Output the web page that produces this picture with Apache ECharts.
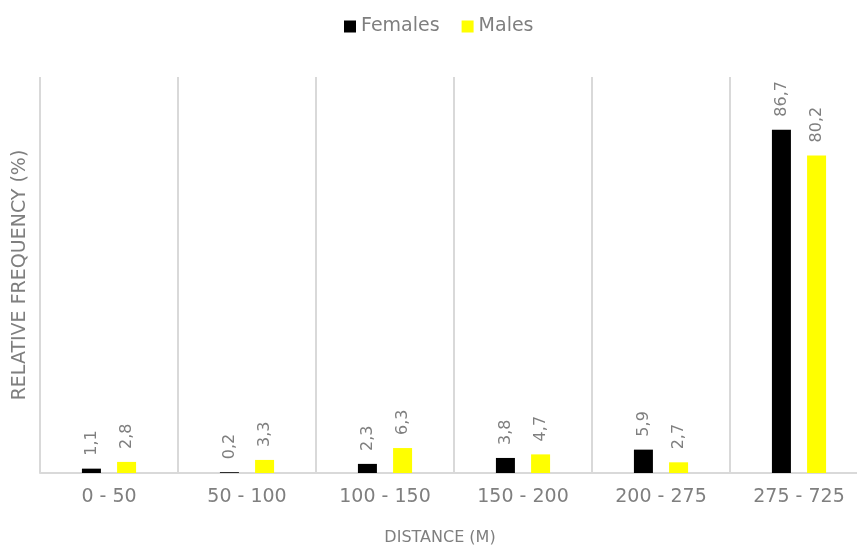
<!DOCTYPE html>
<html>
<head>
<meta charset="utf-8">
<script src="https://cdn.jsdelivr.net/npm/echarts@6/dist/echarts.min.js"></script>
<style>
  html, body { margin: 0; padding: 0; background: #ffffff; }
  #chart { width: 857px; height: 549px; }
</style>
</head>
<body>
<div id="chart"></div>
<script>
// Distance classes (m)
const categories = ['0 - 50', '50 - 100', '100 - 150', '150 - 200', '200 - 275', '275 - 725'];
// Relative frequency (%) per distance class
const females = [1.1, 0.2, 2.3, 3.8, 5.9, 86.7];
const males = [2.8, 3.3, 6.3, 4.7, 2.7, 80.2];

const FONT = 'DejaVu Sans';
const GREY = '#7f7f7f';
const RULE = '#d9d9d9';

const valueLabel = {
  show: true,
  position: 'top',
  distance: 13,
  rotate: 90,
  align: 'left',
  verticalAlign: 'middle',
  color: GREY,
  fontFamily: FONT,
  fontSize: 16,
  formatter: p => p.value.toFixed(1).replace('.', ',')
};

const chart = echarts.init(document.getElementById('chart'));
chart.setOption({
  animation: false,
  backgroundColor: '#ffffff',
  legend: {
    top: 12,
    left: 339,
    icon: 'rect',
    itemWidth: 12,
    itemHeight: 12,
    itemGap: 22,
    textStyle: { color: GREY, fontFamily: FONT, fontSize: 19 },
    data: ['Females', 'Males']
  },
  grid: { left: 40, top: 77, bottom: 76, width: 828, outerBoundsMode: 'none', containLabel: false },
  xAxis: {
    type: 'category',
    data: categories,
    name: 'DISTANCE (M)',
    nameLocation: 'middle',
    nameGap: 57,
    nameTextStyle: { color: GREY, fontFamily: FONT, fontSize: 16, padding: [0, 28, 0, 0] },
    axisTick: { show: false },
    axisLine: { lineStyle: { color: RULE, width: 2 } },
    axisLabel: { color: GREY, fontFamily: FONT, fontSize: 19, margin: 15, interval: 0 },
    splitLine: { show: true, interval: 0, lineStyle: { color: RULE, width: 2 } }
  },
  yAxis: {
    type: 'value',
    min: 0,
    max: 100,
    name: 'RELATIVE FREQUENCY (%)',
    nameLocation: 'middle',
    nameGap: 10,
    nameTextStyle: { color: GREY, fontFamily: FONT, fontSize: 19 },
    axisLine: { show: false },
    axisTick: { show: false },
    axisLabel: { show: false },
    splitLine: { show: false }
  },
  series: [
    {
      name: 'Females',
      type: 'bar',
      data: females,
      barWidth: 19,
      barGap: '85%',
      itemStyle: { color: '#000000' },
      label: valueLabel
    },
    {
      name: 'Males',
      type: 'bar',
      data: males,
      barWidth: 19,
      itemStyle: { color: '#ffff00' },
      label: valueLabel
    }
  ]
});
</script>
</body>
</html>
